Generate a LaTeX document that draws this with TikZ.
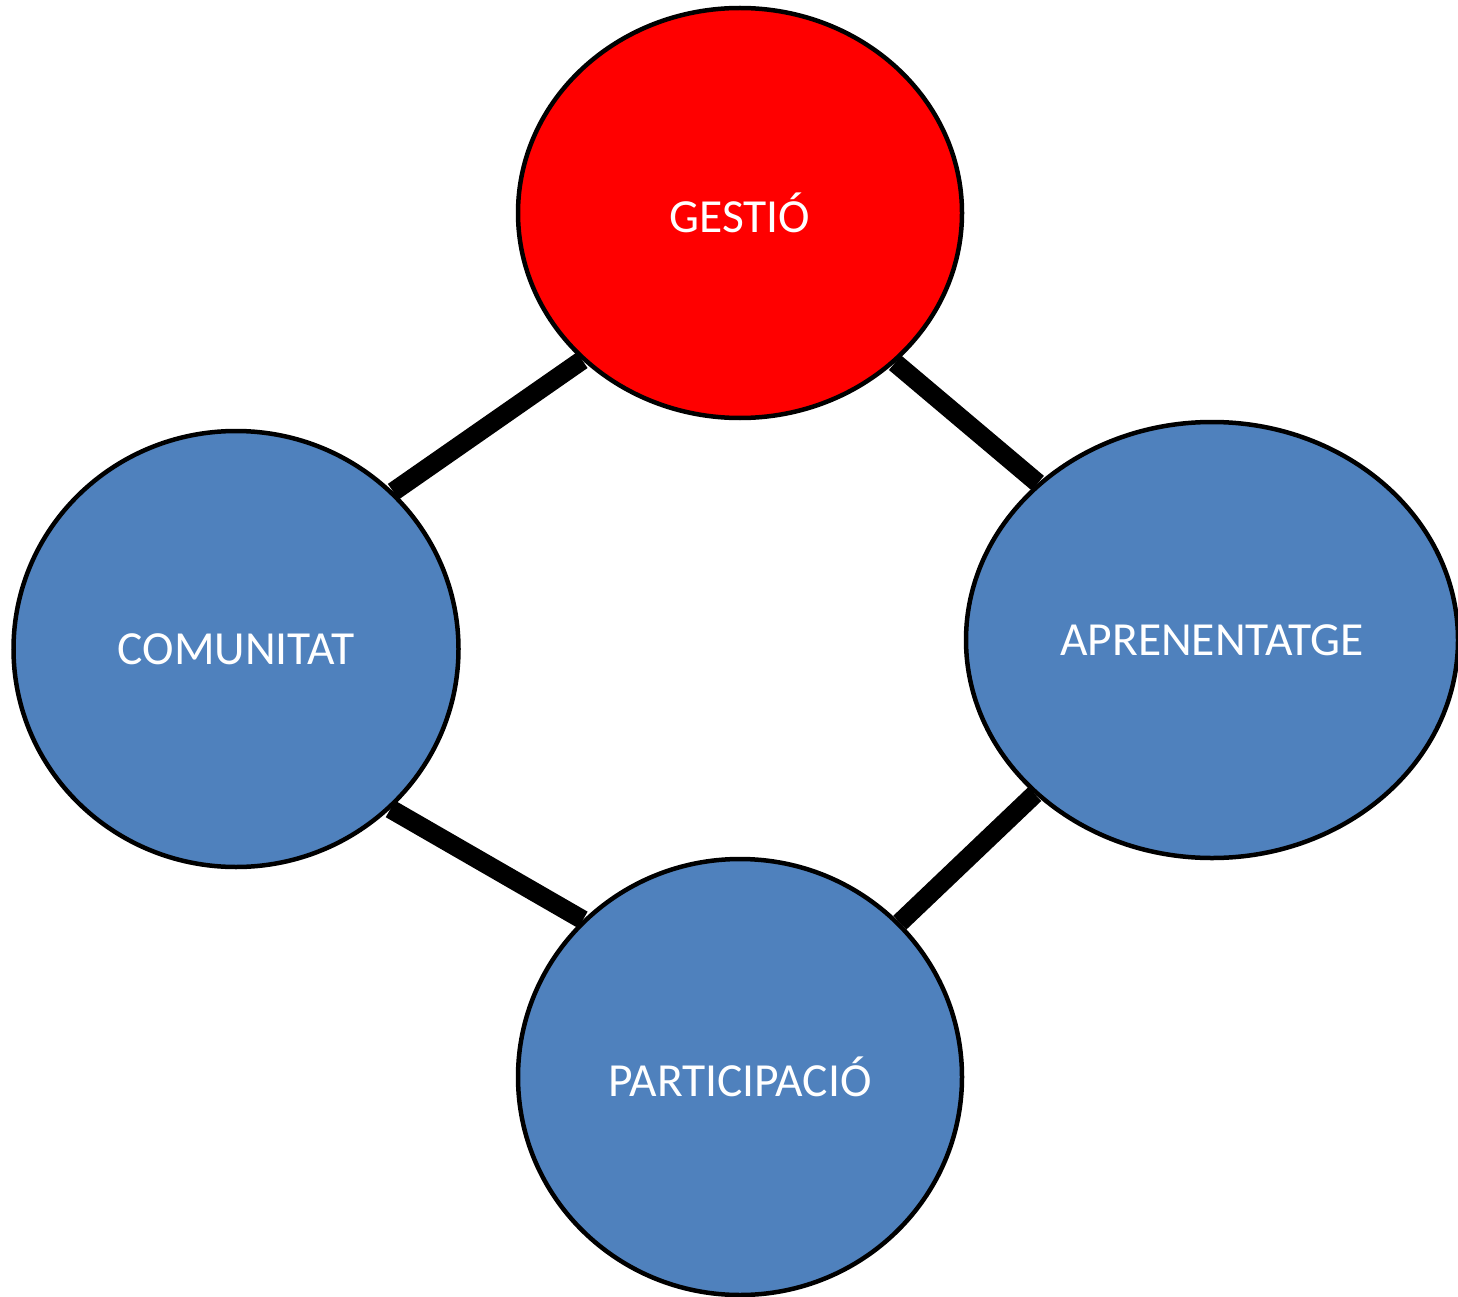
\documentclass[tikz,border=0pt]{standalone}
\usepackage{fontspec}
\setmainfont{Carlito}
\usetikzlibrary{shapes.geometric,backgrounds}
\definecolor{nodeblue}{HTML}{4F81BD}
\definecolor{nodered}{HTML}{FF0000}
\tikzset{
  bubble/.style={ellipse, draw=black, line width=4.5pt, inner sep=0pt, text=white, font=\fontsize{47.5}{56}\selectfont},
  link/.style={line width=19pt, black}
}
\begin{document}
\begin{tikzpicture}[x=1pt,y=-1pt]
\useasboundingbox (0,0) rectangle (1458,1297);
\node[bubble, fill=nodered, minimum width=444pt, minimum height=410pt] (g) at (740,213) {GESTIÓ};
\node[bubble, fill=nodeblue, minimum width=445pt, minimum height=436pt] (c) at (236,649) {COMUNITAT};
\node[bubble, fill=nodeblue, minimum width=492pt, minimum height=436pt] (a) at (1212,640) {APRENENTATGE};
\node[bubble, fill=nodeblue, minimum width=444pt, minimum height=436pt] (p) at (740,1077) {PARTICIPACIÓ};
\begin{pgfonlayer}{background}
\draw[link] (g.223.5) -- (c.45);
\draw[link] (g.316.9) -- (a.138.2);
\draw[link] (c.314.8) -- (p.135.2);
\draw[link] (a.221.2) -- (p.44.8);
\end{pgfonlayer}
\end{tikzpicture}
\end{document}
